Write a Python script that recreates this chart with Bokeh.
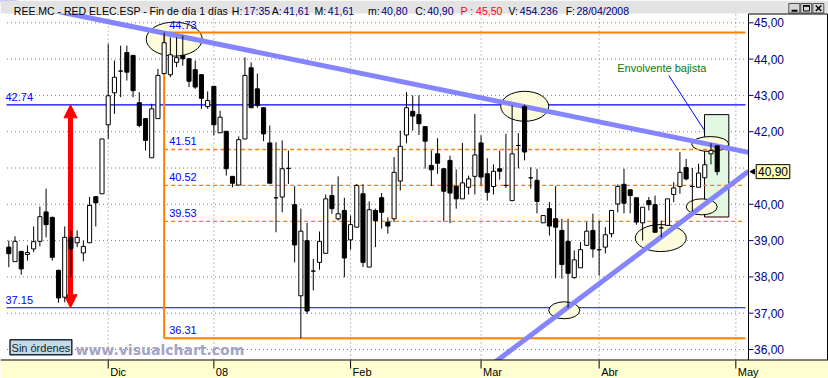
from bokeh.plotting import figure
from bokeh.models import Range1d, Arrow, NormalHead
from bokeh.core.properties import value
from bokeh.embed import file_html
from bokeh.resources import INLINE
import math

# ---------------- data ----------------
opens = [38.82, 38.42, 38.70, 38.62, 38.77, 38.98, 39.79, 39.64, 38.18, 37.44,
         39.09, 38.94, 38.66, 38.94, 40.21, 40.29, 42.19, 43.07, 43.67, 44.18,
         44.10, 42.80, 42.36, 41.28, 42.36, 43.60, 43.57, 43.91, 44.10, 44.01,
         43.71, 43.57, 42.69, 43.25, 41.97, 42.01, 40.77, 40.53, 41.80, 43.76,
         43.18, 42.66, 41.69, 40.18, 40.20, 40.99, 39.99, 37.48, 39.00, 38.16,
         38.40, 38.65, 40.24, 39.60, 39.83, 39.02, 39.37, 40.29, 38.27, 39.83,
         40.18, 39.51, 39.60, 40.64, 41.91, 42.56, 42.47, 42.14, 41.07, 41.39,
         40.98, 41.21, 40.50, 40.15, 40.47, 40.77, 41.69, 40.84, 40.49, 40.98,
         40.52, 40.10, 41.62, 42.69, 40.73, 40.66, 39.49, 39.88, 39.60, 39.28,
         38.98, 37.98, 38.25, 38.87, 39.28, 38.75, 38.82, 39.19, 40.01, 40.55,
         40.40, 40.18, 39.49, 40.10, 39.99, 39.35, 39.42, 40.27, 40.49, 41.01,
         40.49, 40.47, 40.73, 41.39, 41.61]
highs = [39.00, 39.12, 38.72, 38.87, 39.39, 39.94, 40.43, 39.66, 38.20, 39.39,
         39.28, 39.28, 39.00, 40.20, 40.21, 41.80, 44.42, 43.96, 44.37, 44.37,
         44.12, 43.09, 42.38, 42.77, 43.73, 44.73, 44.60, 44.60, 44.65, 44.03,
         43.96, 43.58, 43.11, 43.26, 42.58, 42.02, 40.78, 41.87, 44.05, 43.91,
         43.60, 42.67, 42.17, 41.71, 41.76, 41.48, 40.50, 39.88, 39.49, 38.50,
         39.25, 40.27, 40.54, 40.77, 40.18, 39.69, 40.56, 40.55, 40.08, 39.88,
         40.31, 39.64, 41.30, 42.03, 43.09, 43.00, 43.00, 42.15, 41.48, 41.82,
         40.99, 41.34, 40.96, 41.69, 40.79, 42.49, 41.90, 41.27, 41.10, 41.48,
         41.94, 42.72, 41.96, 42.74, 41.02, 40.98, 39.69, 40.06, 40.50, 39.60,
         39.60, 38.73, 38.96, 39.51, 39.74, 39.55, 39.37, 39.83, 40.55, 40.98,
         40.40, 40.18, 39.92, 40.20, 40.24, 39.55, 40.15, 40.61, 41.44, 41.25,
         41.00, 41.12, 41.21, 41.68, 41.61]
lows = [38.27, 38.42, 38.06, 38.45, 38.68, 38.84, 39.09, 38.45, 37.29, 37.30,
        37.99, 38.82, 38.43, 38.94, 39.39, 40.29, 41.80, 42.49, 42.95, 43.41,
        42.95, 42.12, 41.48, 41.28, 42.36, 43.60, 43.50, 43.78, 43.82, 43.23,
        43.18, 42.63, 42.63, 41.90, 41.97, 40.79, 40.47, 40.53, 41.80, 42.66,
        42.66, 41.74, 40.58, 39.23, 39.78, 40.56, 38.40, 36.31, 36.98, 37.63,
        38.20, 38.64, 39.74, 39.55, 37.99, 38.75, 39.37, 38.27, 38.27, 38.82,
        39.33, 39.19, 39.51, 40.38, 41.68, 42.03, 41.91, 40.98, 40.50, 40.84,
        39.53, 39.48, 39.88, 40.15, 40.27, 40.27, 40.52, 40.10, 40.27, 40.68,
        40.45, 40.10, 40.99, 41.21, 40.43, 39.75, 39.49, 39.14, 37.96, 37.95,
        37.15, 37.95, 38.25, 38.87, 38.53, 38.04, 38.65, 39.09, 39.78, 39.75,
        39.75, 39.44, 39.00, 39.83, 39.23, 39.09, 39.42, 40.06, 40.29, 40.66,
        39.80, 40.47, 40.73, 41.10, 40.80]
closes = [38.64, 38.98, 38.22, 38.67, 38.97, 39.66, 39.44, 38.54, 37.42, 39.09,
          38.77, 39.09, 38.84, 39.97, 40.04, 41.80, 42.99, 43.50, 43.67, 43.64,
          43.13, 42.17, 41.76, 42.63, 43.55, 44.45, 44.12, 44.04, 44.01, 43.39,
          43.23, 42.92, 42.86, 42.19, 42.40, 40.98, 40.58, 41.78, 43.55, 42.66,
          42.72, 41.94, 40.58, 40.18, 40.98, 40.99, 38.88, 39.26, 37.06, 38.16,
          38.98, 40.15, 39.88, 39.74, 38.52, 39.44, 40.52, 38.40, 39.85, 39.55,
          39.78, 39.40, 40.88, 41.60, 42.66, 42.43, 42.22, 41.74, 40.95, 41.13,
          40.36, 40.31, 40.15, 40.59, 40.70, 41.36, 40.75, 40.33, 40.91, 40.91,
          40.52, 41.39, 41.62, 41.44, 40.73, 40.08, 39.69, 39.40, 39.37, 38.34,
          38.10, 38.47, 38.75, 39.26, 38.77, 38.75, 39.16, 39.83, 40.49, 40.03,
          40.24, 39.51, 39.92, 39.99, 39.23, 39.35, 40.15, 40.45, 40.88, 40.70,
          40.49, 40.86, 41.09, 41.48, 40.90]
days = list(range(len(closes)))

month_labels = ["Dic", "08", "Feb", "Mar", "Abr", "May"]
month_days = [16, 33, 55, 76, 95, 117]

price_ticks = [36, 37, 38, 39, 40, 41, 42, 43, 44, 45]
price_tick_labels = ["36,00", "37,00", "38,00", "39,00", "40,00",
                     "41,00", "42,00", "43,00", "44,00", "45,00"]
last_close = 40.90
last_close_label = "40,90"

blue_levels = [42.74, 37.15]
blue_level_labels = ["42.74", "37.15"]
fib_day = 25
fib_range = [44.73, 36.31]
fib_range_labels = ["44.73", "36.31"]
fib_levels = [41.51, 40.52, 39.53]
fib_level_labels = ["41.51", "40.52", "39.53"]
levels_end_day = 118.55

trend_down_days = [-2.0, 119.04]
trend_down_prices = [45.66, 41.43]
trend_up_days = [78.0, 119.04]
trend_up_prices = [35.62, 40.91]

highlight_days = [26.62, 83.02, 112.87, 111.51, 104.92, 89.39]
highlight_prices = [44.55, 42.70, 41.66, 39.93, 39.07, 37.08]

signal_days = [111.96, 115.87]
signal_prices = [39.65, 42.47]
signal_text = "Envolvente bajista"

title_texts = ["REE.MC - RED ELEC.ESP - Fin de día 1 días", "H:", "17:35", "A:", "41,61",
               "M:", "41,61", "m:", "40,80", "C:", "40,90", "P : 45,50", "V:",
               "454.236", "F:", "28/04/2008"]

# ---------------- layout helpers (pixel -> data) ----------------
PX0, PXS = 8.3, 6.214
PY0, PYS = 349.0, 36.3
def X(px):
    return (px - PX0) / PXS
def Y(py):
    return 36 + (PY0 - py) / PYS

NAVY = "#000080"
ORANGE = "#ff8000"
TREND = "#8585ff"
FONT = value("Liberation Sans")

p = figure(width=828, height=378, x_range=Range1d(X(0), X(828)), y_range=Range1d(Y(378), Y(0)),
           output_backend="svg", toolbar_location=None, min_border=0,
           x_axis_type=None, y_axis_type=None)
p.outline_line_color = None
p.background_fill_color = "white"
p.border_fill_color = "white"

# dotted grid
p.multi_line(xs=[[X(6.5), X(745)] for _ in price_ticks], ys=[[t, t] for t in price_ticks],
             line_color="#808080", line_width=1, line_dash="1 3")
p.multi_line(xs=[[d, d] for d in month_days], ys=[[Y(14), Y(359)] for _ in month_days],
             line_color="#808080", line_width=1, line_dash="1 3")

# signal box
p.quad(left=[signal_days[0]], right=[signal_days[1]], bottom=[signal_prices[0]], top=[signal_prices[1]],
       fill_color="#e2f8e2", line_color="black", line_width=1)

# blue levels
p.multi_line(xs=[[X(6), levels_end_day] for _ in blue_levels], ys=[[v, v] for v in blue_levels],
             line_color="#0000ff", line_width=1.2)

# highlight ellipses
p.ellipse(x=highlight_days, y=highlight_prices, width=[56, 48, 37, 31, 51, 31], height=[34, 30, 15, 16, 27, 17],
          width_units="screen", height_units="screen",
          fill_color="#fcfcdc", line_color="black", line_width=1)

# orange retracement
p.multi_line(xs=[[fib_day, levels_end_day] for _ in fib_range], ys=[[v, v] for v in fib_range],
             line_color=ORANGE, line_width=2)
p.multi_line(xs=[[fib_day, levels_end_day] for _ in fib_levels], ys=[[v, v] for v in fib_levels],
             line_color=ORANGE, line_width=1.3, line_dash="4 3")
p.segment(x0=[fib_day], y0=[fib_range[0]], x1=[fib_day], y1=[fib_range[1]], line_color=ORANGE, line_width=2)

# trend lines
p.line(trend_down_days, trend_down_prices, line_color=TREND, line_width=5)
p.line(trend_up_days, trend_up_prices, line_color=TREND, line_width=5)

# leader line of annotation
p.segment(x0=[X(668.3)], y0=[Y(75)], x1=[signal_days[0]], y1=[Y(130)], line_color="#0000ff", line_width=1)

# red double arrow
arrow = Arrow(x_start=X(70), y_start=blue_levels[1], x_end=X(70), y_end=blue_levels[0],
              line_color="red", line_width=5,
              end=NormalHead(size=13, fill_color="red", line_color="red"),
              start=NormalHead(size=13, fill_color="red", line_color="red"), level="glyph")
p.renderers.append(arrow)

# candles
body_top = [max(o, c) for o, c in zip(opens, closes)]
body_bot = [min(o, c) for o, c in zip(opens, closes)]
body_fill = ["black" if c < o else "white" for o, c in zip(opens, closes)]
p.segment(x0=days, y0=lows, x1=days, y1=highs, line_color="black", line_width=1)
p.vbar(x=days, width=0.66, top=body_top, bottom=body_bot, fill_color=body_fill,
       line_color="black", line_width=1)

# level labels
p.text(x=[X(5)] * 2, y=blue_levels, text=blue_level_labels, text_font=FONT, text_font_size=value("11px"),
       text_color="#0000ff", text_align="left", text_baseline="middle", y_offset=-8)
p.text(x=[fib_day] * 5, y=fib_range + fib_levels, text=fib_range_labels + fib_level_labels,
       text_font=FONT, text_font_size=value("11px"), text_color="#0000ff",
       text_align="left", text_baseline="middle", x_offset=5, y_offset=-8)

# annotation text
p.text(x=[X(616.7)], y=[Y(67.5)], text=[signal_text], text_font=FONT, text_font_size=value("11px"),
       text_color="#008000", text_align="left", text_baseline="middle")

# watermark and status box
p.text(x=[X(75)], y=[Y(349.5)], text=["www.visualchart.com"], text_font=value("DejaVu Sans"),
       text_font_size=value("14px"), text_font_style="bold", text_color="#a4a4c8",
       text_align="left", text_baseline="alphabetic")
p.quad(left=[X(9.5)], right=[X(71.3)], bottom=[Y(354.3)], top=[Y(339.3)],
       fill_color="#c5d9e6", line_color="#1c2c3c", line_width=1.5)
p.text(x=[X(40.4)], y=[Y(347)], text=["Sin órdenes"], text_font=FONT, text_font_size=value("11px"),
       text_color="#102a2a", text_align="center", text_baseline="middle")

# title bar
p.quad(left=[X(0)], right=[X(828)], bottom=[Y(13)], top=[Y(0)], fill_color="#e3e3e3", line_color=None)
title_x = [13.3, 231.3, 243.3, 271.3, 282.7, 314.1, 327.3, 367.5, 380.7, 414.7, 426.7, 460.0,
           507.9, 519.3, 565.2, 576.0]
title_colors = ["black", "black", NAVY, "black", NAVY, "black", NAVY, "black", NAVY, "black", NAVY,
                "red", "black", NAVY, "black", NAVY]
p.text(x=[X(v) for v in title_x], y=[Y(10.7)] * len(title_x), text=title_texts, text_color=title_colors,
       text_font=FONT, text_font_size=value("10.5px"), text_align="left", text_baseline="alphabetic")
# window buttons
bl = [788.3, 800.3, 812.3]
p.quad(left=[X(v) for v in bl], right=[X(v + 11) for v in bl], bottom=[Y(12.5)] * 3, top=[Y(3)] * 3,
       fill_color="#d6d6d6", line_color="#505050", line_width=1)
p.segment(x0=[X(791)], y0=[Y(10.3)], x1=[X(797)], y1=[Y(10.3)], line_color="black", line_width=2)
p.quad(left=[X(803)], right=[X(809)], bottom=[Y(10.5)], top=[Y(5)], fill_color=None,
       line_color="black", line_width=1)
p.segment(x0=[X(803)], y0=[Y(5.5)], x1=[X(809)], y1=[Y(5.5)], line_color="black", line_width=1.5)
p.segment(x0=[X(815.3), X(815.3)], y0=[Y(5), Y(10.5)], x1=[X(820.8), X(820.8)], y1=[Y(10.5), Y(5)],
          line_color="black", line_width=1.5)

# right price axis
p.quad(left=[X(748)], right=[X(827)], bottom=[Y(360)], top=[Y(13.5)], fill_color="white",
       line_color="black", line_width=1)
shown = [i for i, t in enumerate(price_ticks) if abs(t - last_close) > 0.3]
p.segment(x0=[X(748.5)] * len(shown), y0=[price_ticks[i] for i in shown],
          x1=[X(753)] * len(shown), y1=[price_ticks[i] for i in shown], line_color=NAVY, line_width=1)
p.text(x=[X(753.5)] * len(shown), y=[price_ticks[i] for i in shown], text=[price_tick_labels[i] for i in shown],
       text_font=FONT, text_font_size=value("12px"), text_color=NAVY, text_align="left", text_baseline="middle")
p.quad(left=[X(755.7)], right=[X(789.3)], bottom=[last_close - 7 / PYS], top=[last_close + 7 / PYS],
       fill_color="#ffffb8", line_color="black", line_width=1)
p.text(x=[X(757.5)], y=[last_close], text=[last_close_label], text_font=FONT, text_font_size=value("12px"),
       text_color="black", text_align="left", text_baseline="middle")
p.scatter(x=[X(752.5)], y=[last_close], marker="triangle", size=5, angle=math.pi / 2,
          fill_color="black", line_color="black")

# bottom time band
p.quad(left=[X(0)], right=[X(828)], bottom=[Y(378)], top=[Y(359.5)], fill_color="#ffffd2",
       line_color=None)
p.segment(x0=[X(0)], y0=[Y(359.5)], x1=[X(828)], y1=[Y(359.5)], line_color="black", line_width=1)
p.segment(x0=month_days, y0=[Y(360)] * len(month_days), x1=month_days, y1=[Y(368)] * len(month_days),
          line_color="black", line_width=1)
p.text(x=month_days, y=[Y(371.3)] * len(month_days), text=month_labels, text_font=FONT,
       text_font_size=value("11px"), text_color="black", text_align="left", text_baseline="middle",
       x_offset=2)

open("out.html", "w").write(file_html(p, INLINE))
